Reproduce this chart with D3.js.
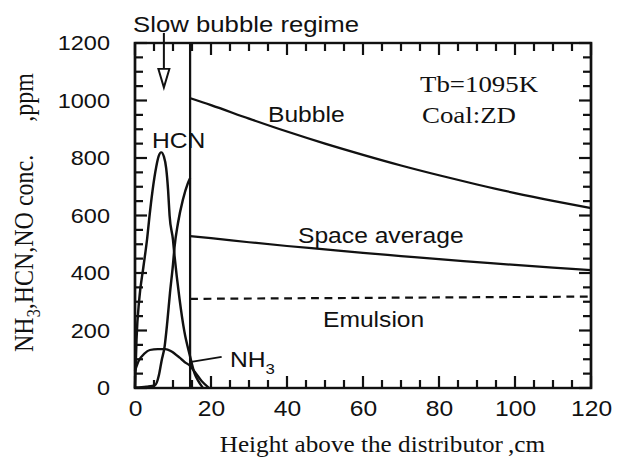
<!DOCTYPE html>
<html lang="en">
<head>
    <meta charset="UTF-8">
    <title>NH3, HCN, NO concentration vs height</title>
    <script src="https://d3js.org/d3.v7.min.js"></script>
    <style>
        body { margin: 0; background: #fff; }
        .sans { font-family: "Liberation Sans", Arial, Helvetica, sans-serif; }
        .serif { font-family: "Liberation Serif", "Times New Roman", serif; }
        .curve { fill: none; stroke: #111; stroke-width: 2.2; }
    </style>
</head>
<body>
    <svg width="623" height="467"></svg>
    <script>
        // bubble / space-average / emulsion (after the slow bubble regime)
        const upperX = [14.5, 20, 30, 40, 50, 60, 70, 80, 90, 100, 110, 120];
        const bubble = [1008, 984, 937, 892, 850, 811, 774, 740, 708, 678, 651, 626];
        const spaceAvg = [528, 521, 507, 494, 482, 470, 459, 448, 438, 428, 419, 410];
        const emulsionX = [14.5, 120];
        const emulsion = [310, 318];

        // slow bubble regime profiles
        const hcnX = [0, 0.4, 1.1, 2.2, 3.2, 3.8, 4.6, 5.6, 6.2, 6.9, 7.6, 8.2, 8.7, 9.1, 10, 10.4, 11.7, 13, 14.4, 15.7, 16.5, 17.9];
        const hcn = [0, 170, 306, 420, 520, 596, 685, 770, 805, 820, 805, 765, 690, 600, 515, 460, 312, 196, 115, 50, 28, 0];
        const noX = [0, 3, 5.3, 6.3, 7, 7.8, 8.5, 9.2, 10, 10.4, 11.3, 12.6, 13.9, 14.5];
        const no = [2, 5, 10, 45, 95, 145, 230, 330, 430, 490, 573, 655, 712, 730];
        const nh3X = [0, 1, 2.5, 3.9, 6, 8, 9.5, 11.8, 13, 14.4, 15.7, 17.5, 19.5];
        const nh3 = [60, 95, 120, 132, 135, 135, 128, 105, 91, 78, 57, 25, 0];

        const regimeEnd = 14.5;
        const arrowX = 7.6;

        const xMajor = [0, 20, 40, 60, 80, 100, 120];
        const yMajor = [0, 200, 400, 600, 800, 1000, 1200];

        // the scan is a bit wider than tall, so everything is stretched in x
        const SX = 1.12;
        const px = v => v / SX;

        const plot = {left: 135, right: 591, top: 43, bottom: 388};

        const svg = d3.select("svg");
        const g = svg.append("g").attr("transform", `scale(${SX},1)`);

        const x = d3.scaleLinear().domain([0, 120]).range([px(plot.left), px(plot.right)]);
        const y = d3.scaleLinear().domain([0, 1200]).range([plot.bottom, plot.top]);

        // tick labels
        g.append("g").attr("transform", `translate(0,${plot.bottom})`)
            .call(d3.axisBottom(x).tickValues(xMajor).tickSize(0).tickPadding(12).tickFormat(d3.format("d")))
            .call(s => s.select(".domain").remove())
            .selectAll("text").attr("class", "sans").attr("fill", "#111")
            .style("font-size", "22px");
        g.append("g").attr("transform", `translate(${px(110)},0)`)
            .call(d3.axisLeft(y).tickValues(yMajor).tickSize(0).tickPadding(0).tickFormat(d3.format("d")))
            .call(s => s.select(".domain").remove())
            .selectAll("text").attr("class", "sans").attr("fill", "#111")
            .style("font-size", "21px");

        // ticks on all four sides, pointing inward
        const minorX = d3.range(0, 121, 5), minorY = d3.range(0, 1201, 50);
        const tickLen = (d, major) => major.includes(d) ? 12 : 8;
        const ticks = g.append("g");
        [plot.bottom, plot.top].forEach((yy, i) => {
            const dir = i === 0 ? -1 : 1;
            ticks.append("g").selectAll("line").data(minorX).join("line")
                .attr("x1", d => x(d)).attr("x2", d => x(d))
                .attr("y1", yy).attr("y2", d => yy + dir * tickLen(d, xMajor))
                .attr("stroke", "#111").attr("stroke-width", 2.2 / SX);
        });
        [plot.left, plot.right].forEach((xx, i) => {
            const dir = i === 0 ? 1 : -1;
            ticks.append("g").selectAll("line").data(minorY).join("line")
                .attr("y1", d => y(d)).attr("y2", d => y(d))
                .attr("x1", px(xx)).attr("x2", d => px(xx) + dir * px(tickLen(d, yMajor)))
                .attr("stroke", "#111").attr("stroke-width", 2.2);
        });

        g.append("rect")
            .attr("x", px(plot.left)).attr("y", plot.top)
            .attr("width", px(plot.right) - px(plot.left)).attr("height", plot.bottom - plot.top)
            .attr("fill", "none").attr("stroke", "#111").attr("stroke-width", 2.4);

        // boundary of slow bubble regime
        g.append("line")
            .attr("x1", x(regimeEnd)).attr("x2", x(regimeEnd))
            .attr("y1", y(1200)).attr("y2", y(0))
            .attr("stroke", "#111").attr("stroke-width", 2);

        const line = (xs, ys) => d3.line()
            .x((d, i) => x(xs[i]))
            .y(d => y(d))
            .curve(d3.curveMonotoneX)(ys);

        [[upperX, bubble], [upperX, spaceAvg], [hcnX, hcn], [noX, no], [nh3X, nh3]]
            .forEach(([xs, ys]) => {
                g.append("path").attr("class", "curve").attr("d", line(xs, ys));
            });
        g.append("path").attr("class", "curve")
            .attr("d", line(emulsionX, emulsion))
            .attr("stroke-dasharray", "7,5");

        // arrow pointing at the slow bubble regime
        g.append("line")
            .attr("x1", x(arrowX)).attr("x2", x(arrowX))
            .attr("y1", y(1235)).attr("y2", y(1110))
            .attr("stroke", "#111").attr("stroke-width", 1.8);
        g.append("path")
            .attr("d", `M${x(arrowX) - px(5.5)},${y(1110)} L${x(arrowX) + px(5.5)},${y(1110)} L${x(arrowX)},${y(1045)} Z`)
            .attr("fill", "#fff").attr("stroke", "#111").attr("stroke-width", 1.8);

        // NH3 leader
        g.append("line")
            .attr("x1", x(14.4)).attr("y1", y(90))
            .attr("x2", x(22.8)).attr("y2", y(108))
            .attr("stroke", "#111").attr("stroke-width", 1.8);

        const label = (txt, xp, yp, cls, size, anchor) => g.append("text")
            .attr("class", cls).attr("x", px(xp)).attr("y", yp)
            .attr("text-anchor", anchor || "start")
            .style("font-size", size + "px").attr("fill", "#111")
            .text(txt);

        label("Slow bubble regime", 133, 32, "sans", 23);
        label("Tb=1095K", 420, 92, "serif", 24);
        label("Coal:ZD", 422, 123, "serif", 24);
        label("Bubble", 268, 122, "sans", 22);
        label("Space average", 298, 243, "sans", 22);
        label("Emulsion", 323, 327, "sans", 22);
        label("HCN", 152, 148, "sans", 22);
        const nh = label("NH", 230, 367, "sans", 22);
        nh.append("tspan").attr("dy", 7).style("font-size", "15px").text("3");

        label("Height above the distributor", 503, 452, "serif", 22.5, "end");
        label(",cm", 545, 452, "serif", 22.5, "end");

        const yt = g.append("g").attr("transform", `translate(${px(33)},0)`);
        const t1 = yt.append("text").attr("class", "serif")
            .attr("transform", "translate(0,352) rotate(-90)")
            .style("font-size", "24px").attr("fill", "#111");
        t1.append("tspan").text("NH");
        t1.append("tspan").attr("dy", 6).style("font-size", "16px").text("3");
        t1.append("tspan").attr("dy", -6).text(",HCN,NO conc.");
        yt.append("text").attr("class", "serif")
            .attr("transform", "translate(0,73) rotate(-90)")
            .attr("text-anchor", "end")
            .style("font-size", "24px").attr("fill", "#111")
            .text(",ppm");
    </script>
</body>
</html>
